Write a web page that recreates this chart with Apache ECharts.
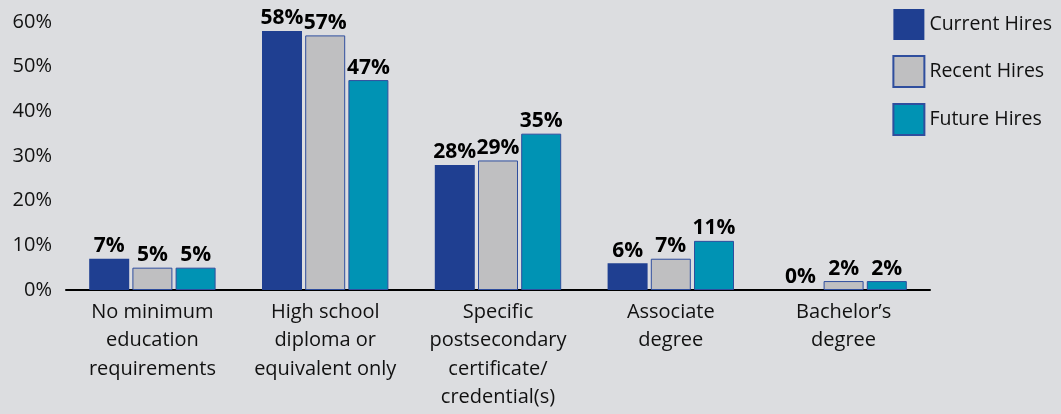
<!DOCTYPE html>
<html>
<head>
<meta charset="utf-8">
<script src="https://cdn.jsdelivr.net/npm/echarts@6/dist/echarts.min.js"></script>
<style>
  html, body { margin: 0; padding: 0; background: #dcdde0; }
  #chart { width: 1061px; height: 414px; }
</style>
</head>
<body>
<div id="chart"></div>
<script>
// categories / values
var categories = [
    'No minimum\neducation\nrequirements',
    'High school\ndiploma or\nequivalent only',
    'Specific\npostsecondary\ncertificate/\ncredential(s)',
    'Associate\ndegree',
    'Bachelor\u2019s\ndegree'
];
var currentHires = [7, 58, 28, 6, 0];
var recentHires = [5, 57, 29, 7, 2];
var futureHires = [5, 47, 35, 11, 2];
var yTicks = [0, 10, 20, 30, 40, 50, 60];

var font = '"Open Sans", "Noto Sans", sans-serif';
var chart = echarts.init(document.getElementById('chart'));

var labelStyle = {
    show: true,
    position: 'top',
    distance: 2,
    formatter: '{c}%',
    color: '#000',
    fontFamily: font,
    fontWeight: 'bold',
    fontSize: 21
};

var option = {
    backgroundColor: '#dcdde0',
    animation: false,
    grid: { left: 66, right: 131, top: 22, bottom: 124 },
    legend: {
        orient: 'vertical',
        right: 4,
        top: 4,
        itemWidth: 31,
        itemHeight: 31,
        itemGap: 15,
        icon: 'rect',
        textStyle: { fontFamily: font, fontSize: 19.5, color: '#111' },
        data: ['Current Hires', 'Recent Hires', 'Future Hires']
    },
    xAxis: {
        type: 'category',
        data: categories,
        axisLine: { lineStyle: { color: '#000', width: 2 } },
        axisTick: { show: false },
        axisLabel: {
            interval: 0,
            margin: 8,
            fontFamily: font,
            fontSize: 20,
            lineHeight: 28.5,
            color: '#111'
        }
    },
    yAxis: {
        type: 'value',
        min: yTicks[0],
        max: yTicks[yTicks.length - 1],
        interval: 10,
        axisLine: { show: false },
        axisTick: { show: false },
        splitLine: { show: false },
        axisLabel: {
            margin: 14,
            formatter: '{value}%',
            fontFamily: font,
            fontSize: 20,
            color: '#111'
        }
    },
    series: [
        {
            name: 'Current Hires',
            type: 'bar',
            data: currentHires,
            barWidth: 40,
            barGap: '8%',
            itemStyle: { color: '#1f3f91' },
            label: labelStyle
        },
        {
            name: 'Recent Hires',
            type: 'bar',
            data: recentHires,
            barWidth: 40,
            barGap: '8%',
            itemStyle: { color: '#bfbfc1', borderColor: '#2f4e9e', borderWidth: 1 },
            label: labelStyle
        },
        {
            name: 'Future Hires',
            type: 'bar',
            data: futureHires,
            barWidth: 40,
            barGap: '8%',
            itemStyle: { color: '#0093b4', borderColor: '#2f4e9e', borderWidth: 1 },
            label: labelStyle
        }
    ]
};
chart.setOption(option);
</script>
</body>
</html>
